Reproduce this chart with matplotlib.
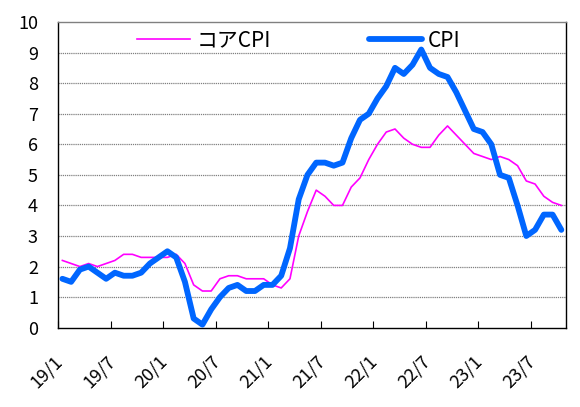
import matplotlib
matplotlib.use("Agg")
import matplotlib.pyplot as plt
import matplotlib.transforms as mtransforms
import numpy as np

plt.rcParams['font.family'] = ['Noto Sans CJK JP', 'DejaVu Sans']

# 2019/1 .. 2023/10 monthly, YoY %
core_cpi = [2.2, 2.1, 2.0, 2.1, 2.0, 2.1, 2.2, 2.4, 2.4, 2.3, 2.3, 2.3,
            2.3, 2.4, 2.1, 1.4, 1.2, 1.2, 1.6, 1.7, 1.7, 1.6, 1.6, 1.6,
            1.4, 1.3, 1.6, 3.0, 3.8, 4.5, 4.3, 4.0, 4.0, 4.6, 4.9, 5.5,
            6.0, 6.4, 6.5, 6.2, 6.0, 5.9, 5.9, 6.3, 6.6, 6.3, 6.0, 5.7,
            5.6, 5.5, 5.6, 5.5, 5.3, 4.8, 4.7, 4.3, 4.1, 4.0]
cpi = [1.6, 1.5, 1.9, 2.0, 1.8, 1.6, 1.8, 1.7, 1.7, 1.8, 2.1, 2.3,
       2.5, 2.3, 1.5, 0.3, 0.1, 0.6, 1.0, 1.3, 1.4, 1.2, 1.2, 1.4,
       1.4, 1.7, 2.6, 4.2, 5.0, 5.4, 5.4, 5.3, 5.4, 6.2, 6.8, 7.0,
       7.5, 7.9, 8.5, 8.3, 8.6, 9.1, 8.5, 8.3, 8.2, 7.7, 7.1, 6.5,
       6.4, 6.0, 5.0, 4.9, 4.0, 3.0, 3.2, 3.7, 3.7, 3.2]
tick_labels = ['19/1', '19/7', '20/1', '20/7', '21/1', '21/7',
               '22/1', '22/7', '23/1', '23/7']
series_names = ['コアCPI', 'CPI']

n = len(cpi)
x = np.arange(n) + 0.5

fig = plt.figure(figsize=(5.8, 4.07), dpi=100)
ax = fig.add_axes([58/580, 1-327.7/407, (565.7-58)/580, (327.7-22)/407])

ax.plot(x, core_cpi, color='#ff00ff', lw=1.2, label=series_names[0], zorder=3)
ax.plot(x, cpi, color='#0066ff', lw=4.2, label=series_names[1], zorder=4,
        solid_capstyle='round', solid_joinstyle='round')

ax.set_xlim(0, n)
ax.set_ylim(0, 10)
ax.set_yticks(range(0, 11))
ax.set_xticks(np.arange(0, n, 6))
ax.set_xticklabels(tick_labels, rotation=45, ha='right', va='top')
for y in range(1, 10):
    ax.axhline(y, color='#808080', lw=0.9, ls=(0, (1, 0.7)), zorder=1)

ax.tick_params(axis='y', length=0, pad=14.4, labelsize=13)
ax.tick_params(axis='x', direction='in', length=5, width=0.8, pad=18, labelsize=13)
offset = mtransforms.ScaledTranslation(8/100, 0, fig.dpi_scale_trans)
for lab in ax.get_xticklabels():
    lab.set_transform(lab.get_transform() + offset)

ax.spines['top'].set_color('#808080')
ax.spines['top'].set_linewidth(1.0)
for s in ['left', 'bottom', 'right']:
    ax.spines[s].set_color('black')
    ax.spines[s].set_linewidth(1.0)

leg = fig.legend(loc='center left', bbox_to_anchor=(137/580, 1-40.7/407),
                 ncol=2, frameon=False, fontsize=15, handlelength=2.55,
                 handletextpad=0.3, columnspacing=4.7, borderpad=0,
                 borderaxespad=0)

fig.savefig('out.png', dpi=100)
